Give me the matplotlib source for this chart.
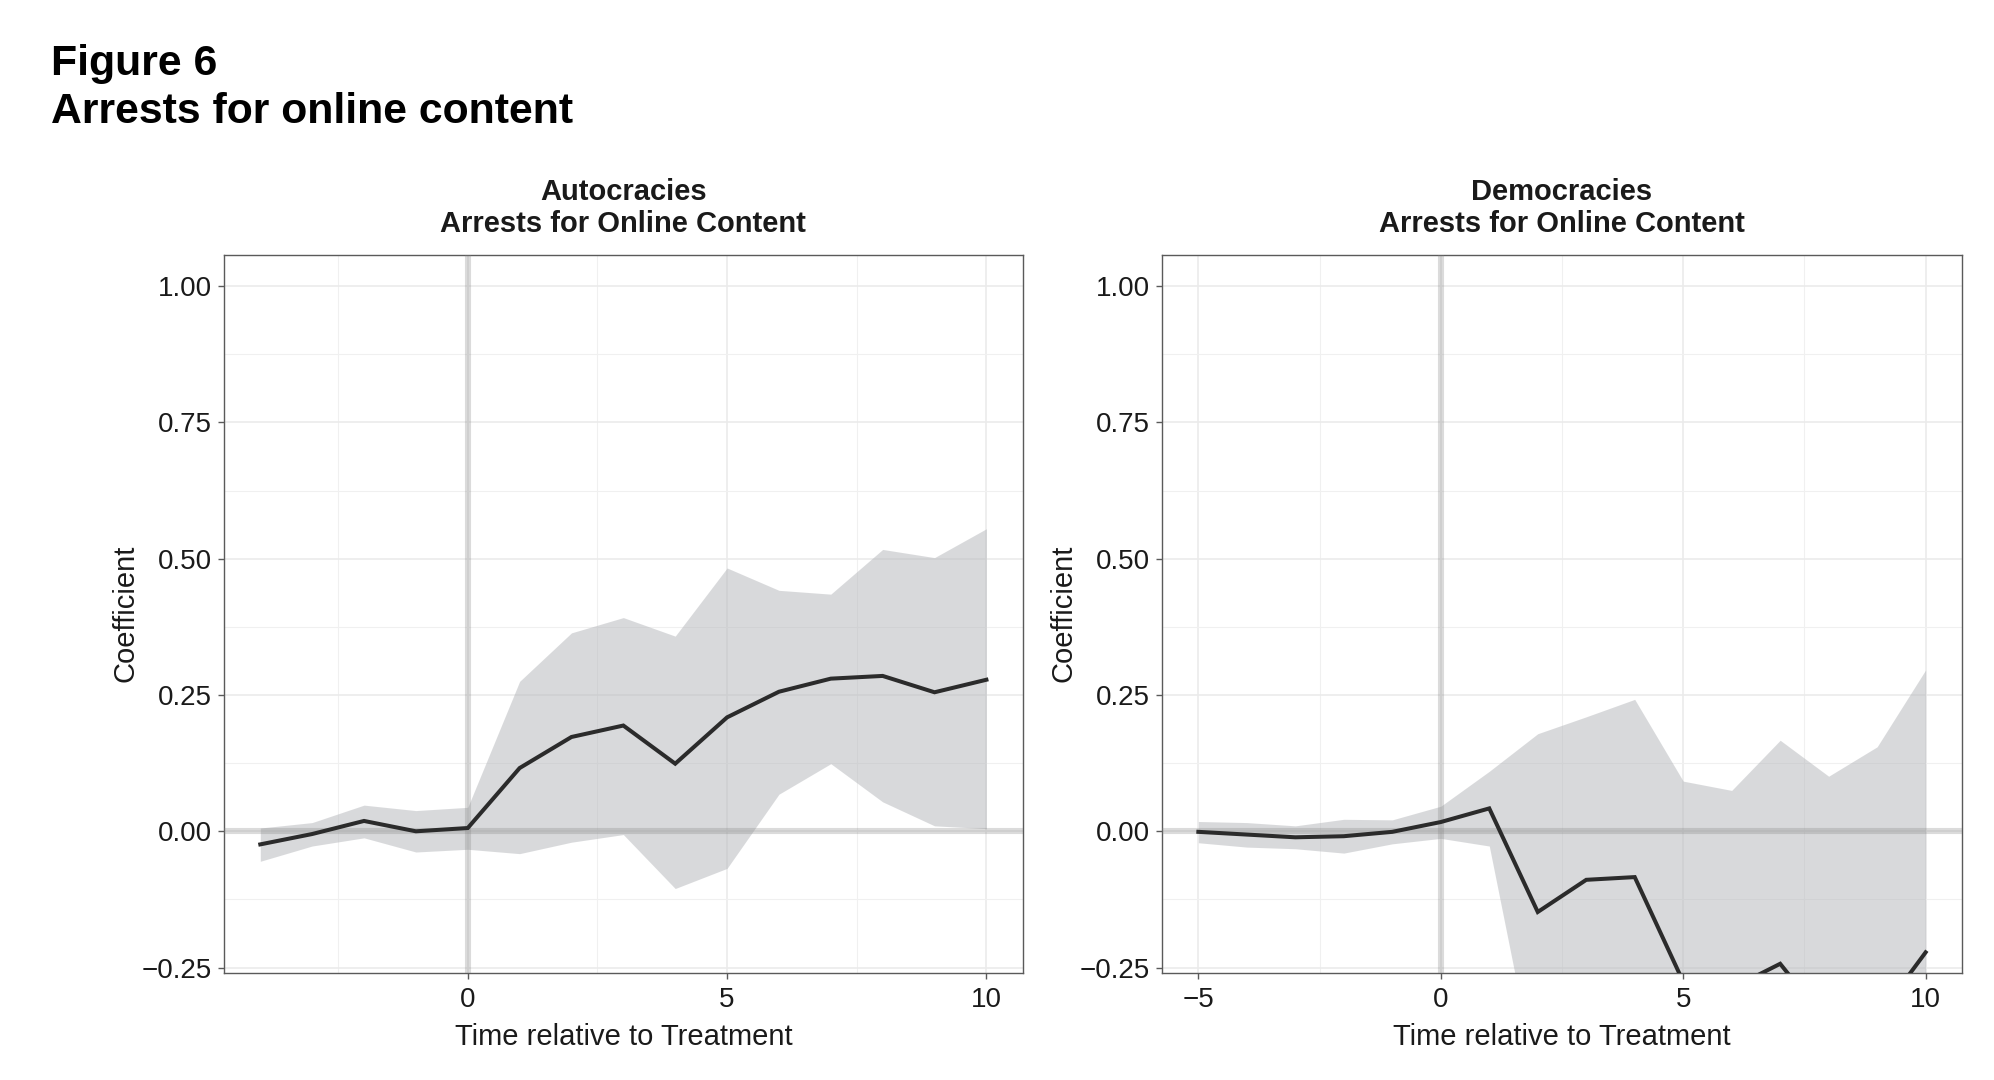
import matplotlib
matplotlib.use("Agg")
import matplotlib.pyplot as plt
from matplotlib.ticker import FixedLocator, FuncFormatter

plt.rcParams['font.family'] = ['Liberation Sans', 'DejaVu Sans']

# ---- data ----
auto_x = [-4, -3, -2, -1, 0, 1, 2, 3, 4, 5, 6, 7, 8, 9, 10]
auto_coef = [-0.024, -0.005, 0.019, 0.000, 0.006, 0.116, 0.173, 0.194, 0.124,
             0.209, 0.256, 0.280, 0.285, 0.255, 0.278]
auto_lo = [-0.055, -0.027, -0.012, -0.038, -0.033, -0.041, -0.020, -0.006, -0.105,
           -0.068, 0.068, 0.124, 0.054, 0.010, 0.005]
auto_hi = [0.006, 0.016, 0.048, 0.038, 0.044, 0.275, 0.364, 0.392, 0.358,
           0.483, 0.442, 0.435, 0.517, 0.502, 0.555]

demo_x = [-5, -4, -3, -2, -1, 0, 1, 2, 3, 4, 5, 6, 7, 8, 9, 10]
demo_coef = [-0.001, -0.006, -0.011, -0.009, -0.001, 0.017, 0.042, -0.148, -0.089,
             -0.084, -0.276, -0.288, -0.243, -0.354, -0.342, -0.222]
demo_lo = [-0.021, -0.029, -0.032, -0.040, -0.023, -0.013, -0.027, -0.470, -0.400,
           -0.420, -0.620, -0.650, -0.610, -0.700, -0.750, -0.720]
demo_hi = [0.018, 0.016, 0.010, 0.022, 0.021, 0.046, 0.110, 0.179, 0.210,
           0.242, 0.092, 0.075, 0.167, 0.101, 0.155, 0.296]

panel_titles = ["Autocracies\nArrests for Online Content",
                "Democracies\nArrests for Online Content"]
y_ticks = [-0.25, 0.0, 0.25, 0.50, 0.75, 1.00]
y_minor = [-0.125, 0.125, 0.375, 0.625, 0.875]
x_ticks = [-5, 0, 5, 10]
x_minor = [-2.5, 2.5, 7.5]

W, H = 1994, 1080
fig = plt.figure(figsize=(W / 100, H / 100), dpi=100)

ax_bottom = 1 - 972.5 / H
ax_h = (972.5 - 254.5) / H
axes = [fig.add_axes([224 / W, ax_bottom, 798.7 / W, ax_h]),
        fig.add_axes([1162 / W, ax_bottom, 800 / W, ax_h])]

series = [(auto_x, auto_coef, auto_lo, auto_hi, (-4.7, 10.7)),
          (demo_x, demo_coef, demo_lo, demo_hi, (-5.75, 10.75))]

def fmt_y(v, pos):
    s = f"{v:.2f}"
    return s.replace('-', '\u2212')

def fmt_x(v, pos):
    s = f"{v:g}"
    return s.replace('-', '\u2212')

text_col = '#1a1a1a'
for ax, (x, c, lo, hi, xl), title in zip(axes, series, panel_titles):
    ax.set_axisbelow(True)
    ax.fill_between(x, lo, hi, color='#b3b5b9', alpha=0.5, lw=0, zorder=2)
    ax.axhline(0, color='#808080', alpha=0.28, lw=4.4, zorder=3)
    ax.axvline(0, color='#808080', alpha=0.28, lw=4.4, zorder=3)
    ax.plot(x, c, color='#2b2b2b', lw=2.9, zorder=4, solid_joinstyle='miter')
    ax.set_xlim(*xl)
    ax.set_ylim(-0.259, 1.058)
    ax.yaxis.set_major_locator(FixedLocator(y_ticks))
    ax.yaxis.set_minor_locator(FixedLocator(y_minor))
    ax.xaxis.set_major_locator(FixedLocator(x_ticks))
    ax.xaxis.set_minor_locator(FixedLocator(x_minor))
    ax.yaxis.set_major_formatter(FuncFormatter(fmt_y))
    ax.xaxis.set_major_formatter(FuncFormatter(fmt_x))
    ax.grid(which='major', color='#ebebeb', lw=1.2)
    ax.grid(which='minor', color='#f0f0f0', lw=0.8)
    for sp in ax.spines.values():
        sp.set_color('#5a5a5a')
        sp.set_linewidth(1.0)
    ax.tick_params(which='major', length=4.5, width=1.0, color='#5a5a5a',
                   labelsize=20, labelcolor=text_col, pad=4)
    ax.tick_params(axis='x', which='major', pad=6)
    ax.tick_params(which='minor', length=0)
    ax.set_xlabel("Time relative to Treatment", fontsize=21, color=text_col)
    ax.set_ylabel("Coefficient", fontsize=21, color=text_col)
    ax.xaxis.set_label_coords(0.5, -0.071)
    ax.yaxis.set_label_coords(-0.106, 0.5)
    ax.set_title(title, fontsize=21, fontweight='bold', color=text_col,
                 linespacing=1.2, pad=16)

fig.text(51 / W, 1 - 75 / H, "Figure 6", fontsize=30.8, fontweight='bold',
         color='black', va='baseline', ha='left')
fig.text(51 / W, 1 - 123 / H, "Arrests for online content", fontsize=30.8,
         fontweight='bold', color='black', va='baseline', ha='left')

fig.savefig("out.png", dpi=100, facecolor='white')
